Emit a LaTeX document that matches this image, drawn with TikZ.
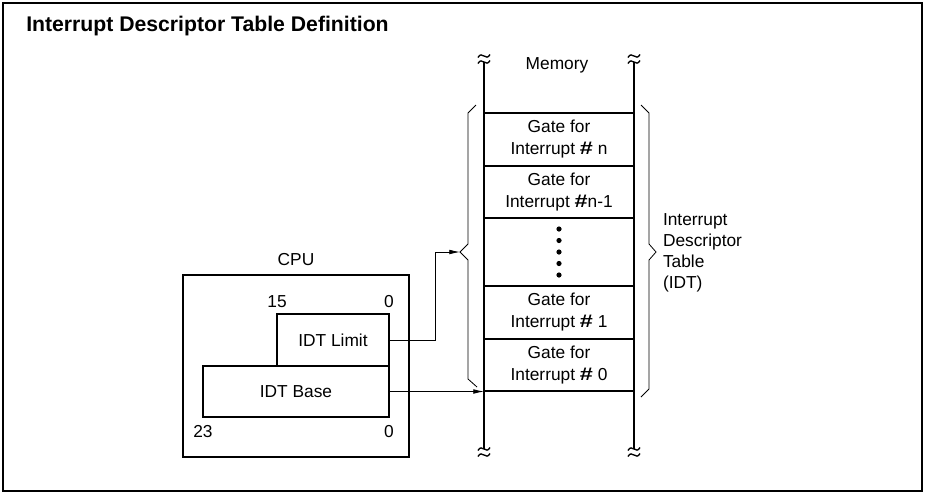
\documentclass[tikz,border=0pt]{standalone}
\usepackage{fontspec}
\setmainfont{Liberation Sans}
\usetikzlibrary{arrows.meta,positioning}
\newcommand{\hashsym}{\textbf{\scalebox{1.35}[1.05]{\#}}}

\begin{document}
\begin{tikzpicture}[
    x=0.75pt,y=-0.75pt,
    lbl/.style={font=\fontsize{13}{16.5}\selectfont,inner sep=0pt,outer sep=0pt},
    gate/.style={lbl,draw,line width=2.2pt,align=center,minimum width=112.5pt},
    reg/.style={lbl,draw,line width=1.8pt},
    memline/.style={line width=2.2pt},
    wire/.style={line width=0.6pt},
    ptr/.style={wire,-{Latex[length=8pt,width=3.5pt]}},
    squig/.style={line width=1pt}
    ]
\useasboundingbox (0,0) rectangle (928,494);
\draw[line width=1pt] (3,3) rectangle (922,491);
\node[anchor=base west,inner sep=0pt,font=\bfseries\fontsize{15.9}{18}\selectfont] (title) at (26,31) {Interrupt Descriptor Table Definition};

\node[lbl,anchor=base] (mem) at (557,69) {Memory};
\foreach \xx in {484,634} {
  \draw[memline] (\xx,62) -- (\xx,449);
  \foreach \yy in {56,62,449,455}
    \draw[squig] (\xx-6,\yy+1.5) .. controls (\xx-2,\yy-6) and (\xx+2,\yy+6) .. (\xx+6,\yy-1.5);
}

\node[gate,minimum height=39.75pt] (gn) at (559,139.5) {Gate for\\Interrupt \hashsym\ n};
\node[gate,minimum height=39pt,below=0pt of gn] (gm) {Gate for\\Interrupt \hashsym n-1};
\node[gate,minimum height=51pt,below=0pt of gm] (dots) {};
\node[gate,minimum height=39.75pt,below=0pt of dots] (g1) {Gate for\\Interrupt \hashsym\ 1};
\node[gate,minimum height=39pt,below=0pt of g1] (g0) {Gate for\\Interrupt \hashsym\ 0};
\foreach \k in {-2,...,2}
  \fill (dots.center) ++(0,11.5*\k) circle (2.6);

\draw[wire] (476,105) -- (468,113) -- (468,244) -- (460,252) coordinate (ltip)
   -- (468,260) -- (468,379) -- (477,387);
\draw[wire] (641,105) -- (649,113) -- (649,244) -- (656,252) coordinate (rtip)
   -- (649,260) -- (649,389) -- (641,397);
\node[lbl,align=left,anchor=west,font=\fontsize{13}{15.75}\selectfont] (idt) at (663,253) {Interrupt\\Descriptor\\Table\\(IDT)};

\node[reg,minimum width=169.5pt,minimum height=136.5pt] (cpu) at (296,366) {};
\node[lbl,anchor=base] (cpulbl) at (296,265) {CPU};
\node[reg,minimum width=84pt,minimum height=39pt] (limit) at (333,340) {IDT Limit};
\node[reg,minimum width=139.5pt,minimum height=38.25pt] (base) at (296,391.5) {IDT Base};
\node[lbl,above=4.5pt of limit.north west] (b15) {15};
\node[lbl,above=4.5pt of limit.north east] (b0l) {0};
\node[lbl,below=6pt of base.south west] (b23) {23};
\node[lbl,below=6pt of base.south east] (b0b) {0};

\draw[ptr] (limit.east) -- ++(46,0) |- (ltip);
\draw[ptr] (base.east) -- (base.east -| g0.south west);
\end{tikzpicture}
\end{document}
